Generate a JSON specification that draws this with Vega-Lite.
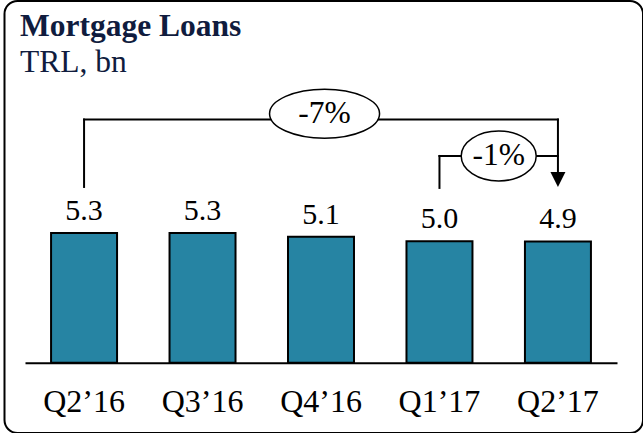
{
  "$schema": "https://vega.github.io/schema/vega-lite/v6.json",
  "width": 638.5,
  "height": 432,
  "autosize": "none",
  "padding": {"left": 4.5, "top": 1, "right": 0, "bottom": 0},
  "background": "white",
  "title": {
    "text": "Mortgage Loans",
    "subtitle": "TRL, bn",
    "anchor": "start",
    "frame": "group",
    "orient": "top",
    "offset": -77,
    "dx": 15.5,
    "font": "Liberation Serif",
    "fontSize": 31.5,
    "fontWeight": "bold",
    "color": "#101c3e",
    "subtitleFont": "Liberation Serif",
    "subtitleFontSize": 31.5,
    "subtitleFontWeight": "normal",
    "subtitleColor": "#101c3e",
    "subtitlePadding": 4
  },
  "config": {
    "font": "Liberation Serif",
    "view": {"stroke": "black", "strokeWidth": 2, "cornerRadius": 13}
  },
  "datasets": {
    "bars": [
      {"quarter": "Q2’16", "value": 5.31, "label": "5.3"},
      {"quarter": "Q3’16", "value": 5.31, "label": "5.3"},
      {"quarter": "Q4’16", "value": 5.16, "label": "5.1"},
      {"quarter": "Q1’17", "value": 4.98, "label": "5.0"},
      {"quarter": "Q2’17", "value": 4.97, "label": "4.9"}
    ],
    "lines": [
      {"x": 0, "x2": 0, "y": 7.2, "y2": 9.96},
      {"x": 0, "x2": 4, "y": 9.96, "y2": 9.96},
      {"x": 4, "x2": 4, "y": 9.96, "y2": 7.81},
      {"x": 3, "x2": 3, "y": 7.16, "y2": 8.47},
      {"x": 3, "x2": 4, "y": 8.47, "y2": 8.47}
    ],
    "arrows": [{"x": 4, "y": 7.505}],
    "changes": [
      {"x": 2.03, "y": 10.2, "label": "-7%"},
      {"x": 3.5, "y": 8.47, "label": "-1%"}
    ]
  },
  "layer": [
    {
      "data": {"name": "bars"},
      "encoding": {
        "x": {
          "field": "quarter",
          "type": "nominal",
          "sort": null,
          "scale": {"range": [20.5, 612.5], "paddingInner": 0.443, "paddingOuter": 0.22},
          "axis": {
            "title": null,
            "orient": "bottom",
            "offset": -70.3,
            "domainColor": "black",
            "domainWidth": 2,
            "ticks": false,
            "tickSize": 0,
            "grid": false,
            "labelAngle": 0,
            "labelFont": "Liberation Serif",
            "labelFontSize": 32,
            "labelColor": "black",
            "labelPadding": 24
          }
        },
        "y": {
          "field": "value",
          "type": "quantitative",
          "scale": {"domain": [0, 10], "range": [361.7, 117.6], "nice": false},
          "axis": null
        }
      },
      "layer": [
        {"mark": {"type": "bar", "fill": "#2684a3", "stroke": "black", "strokeWidth": 2}},
        {
          "mark": {"type": "text", "baseline": "alphabetic", "align": "center", "dy": -13, "fontSize": 30, "color": "black"},
          "encoding": {"text": {"field": "label"}}
        }
      ]
    },
    {
      "encoding": {
        "x": {"field": "x", "type": "quantitative", "scale": {"domain": [0, 4], "range": [79.56, 553.44], "nice": false, "zero": false}, "axis": null},
        "y": {"field": "y", "type": "quantitative", "scale": {"domain": [0, 10], "range": [361.7, 117.6], "nice": false}, "axis": null}
      },
      "layer": [
        {
          "data": {"name": "lines"},
          "mark": {"type": "rule", "stroke": "black", "strokeWidth": 2, "strokeCap": "square"},
          "encoding": {"x2": {"field": "x2"}, "y2": {"field": "y2"}}
        },
        {
          "data": {"name": "arrows"},
          "mark": {"type": "point", "shape": "M -1 -1 L 1 -1 L 0 1 Z", "size": 225, "filled": true, "fill": "black", "strokeWidth": 0, "opacity": 1}
        },
        {
          "data": {"name": "changes"},
          "transform": [{"filter": "datum.label == '-7%'"}],
          "mark": {"type": "point", "shape": "M -1 0 A 1 0.445 0 1 1 1 0 A 1 0.445 0 1 1 -1 0 Z", "size": 12100, "filled": false, "fill": "white", "fillOpacity": 1, "stroke": "black", "strokeWidth": 1.5, "opacity": 1}
        },
        {
          "data": {"name": "changes"},
          "transform": [{"filter": "datum.label == '-1%'"}],
          "mark": {"type": "point", "shape": "M -1 0 A 1 0.667 0 1 1 1 0 A 1 0.667 0 1 1 -1 0 Z", "size": 5625, "filled": false, "fill": "white", "fillOpacity": 1, "stroke": "black", "strokeWidth": 1.5, "opacity": 1}
        },
        {
          "data": {"name": "changes"},
          "mark": {"type": "text", "align": "center", "baseline": "middle", "fontSize": 31.5, "color": "black"},
          "encoding": {"text": {"field": "label"}}
        }
      ]
    }
  ],
  "resolve": {"scale": {"x": "independent"}, "axis": {"x": "independent"}}
}
